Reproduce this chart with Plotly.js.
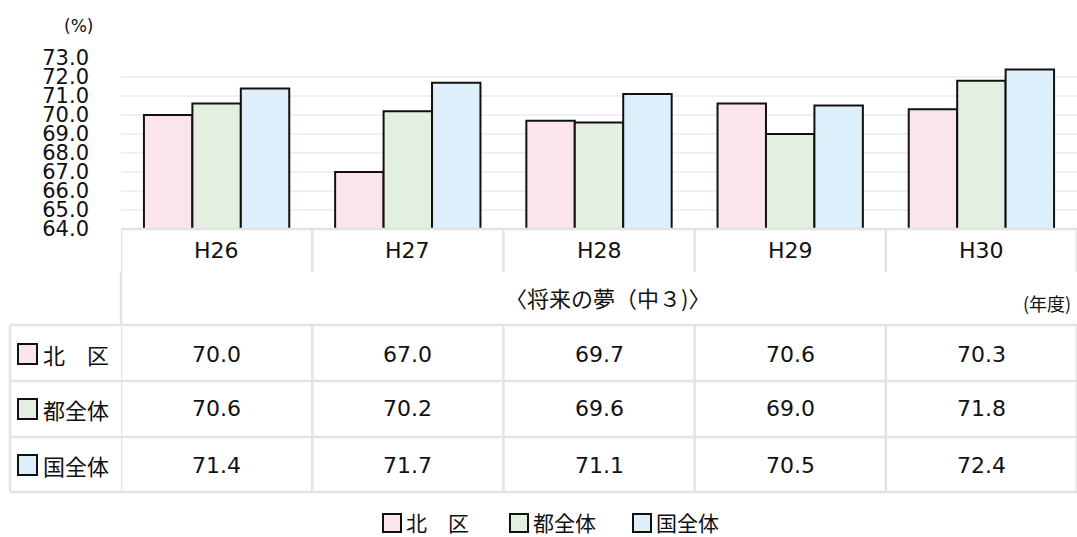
<!DOCTYPE html>
<html>
<head>
<meta charset="utf-8">
<script src="https://cdn.plot.ly/plotly-3.0.1.min.js"></script>
<style>html,body{margin:0;padding:0;background:#fff;}#chart{width:1077px;height:537px;}</style>
</head>
<body>
<div id="chart"></div>
<script>
// ---- data ----
const categories = ["H26", "H27", "H28", "H29", "H30"];
const seriesNames = ["北　区", "都全体", "国全体"];
const kitaValues = [70.0, 67.0, 69.7, 70.6, 70.3];
const tokyoValues = [70.6, 70.2, 69.6, 69.0, 71.8];
const nationValues = [71.4, 71.7, 71.1, 70.5, 72.4];
const yTickVals = [64, 65, 66, 67, 68, 69, 70, 71, 72, 73];
const subTitle = "〈将来の夢（中３)〉";
const yUnit = "(%)";
const xUnit = "(年度)";

const seriesValues = [kitaValues, tokyoValues, nationValues];
const colors = ["#fbe4ee", "#e2efe1", "#ddeffb"];

// ---- layout helpers (pixel -> paper) ----
const W = 1077, H = 537;
const L = 121, R = 0, T = 58, B = 537 - 229;
const plotW = W - L - R, plotH = H - T - B;
const px = p => (p - L) / plotW;
const py = p => (H - B - p) / plotH;

const FONT = '"DejaVu Sans", "Noto Sans CJK JP", sans-serif';
const CJK = '"Noto Sans CJK JP", "DejaVu Sans", sans-serif';
const TXT = "#111";
const gridCol = "#e3e3e3";

const traces = seriesValues.map((vals, k) => ({
  type: "bar",
  x: categories,
  y: vals,
  name: seriesNames[k],
  marker: { color: colors[k], line: { color: "#111", width: 2 } },
  showlegend: false,
  hoverinfo: "x+y"
}));

const shapes = [];
const annotations = [];

// table: category header row lines
shapes.push({ type: "line", xref: "paper", yref: "paper", x0: 0, x1: 1, y0: py(229), y1: py(229), line: { color: gridCol, width: 2.5 } });
for (let i = 0; i <= categories.length; i++) {
  const xv = i - 0.5;
  shapes.push({ type: "line", xref: "x", yref: "paper", x0: xv, x1: xv, y0: py(229), y1: py(272), line: { color: gridCol, width: 2.5 } });
  shapes.push({ type: "line", xref: "x", yref: "paper", x0: xv, x1: xv, y0: py(325), y1: py(492), line: { color: gridCol, width: 2.5 } });
}
// left border of sub title row
shapes.push({ type: "line", xref: "paper", yref: "paper", x0: 0, x1: 0, y0: py(272), y1: py(325), line: { color: gridCol, width: 2.5 } });
// data rows
const rowLines = [325, 381, 437, 492];
rowLines.forEach(r => {
  shapes.push({ type: "line", xref: "paper", yref: "paper", x0: px(10), x1: 1, y0: py(r), y1: py(r), line: { color: gridCol, width: 2.5 } });
});
shapes.push({ type: "line", xref: "paper", yref: "paper", x0: px(10), x1: px(10), y0: py(325), y1: py(492), line: { color: gridCol, width: 2.5 } });

// category labels
categories.forEach((c, i) => {
  annotations.push({ xref: "x", yref: "paper", x: c, y: py(250), text: c, showarrow: false,
    xanchor: "center", yanchor: "middle", font: { size: 22, color: TXT, family: FONT } });
});
// subtitle and units
annotations.push({ xref: "x", yref: "paper", x: 2, xshift: 8, y: py(297), text: subTitle, showarrow: false,
  xanchor: "center", yanchor: "middle", font: { size: 22, color: TXT, family: CJK } });
annotations.push({ xref: "paper", yref: "paper", x: px(1073), y: py(303), text: xUnit, showarrow: false,
  xanchor: "right", yanchor: "middle", font: { size: 18, color: TXT, family: CJK } });
annotations.push({ xref: "paper", yref: "paper", x: px(78), y: py(26), text: yUnit, showarrow: false,
  xanchor: "center", yanchor: "middle", font: { size: 17, color: TXT, family: FONT } });

// data table rows
const rowCenters = [354, 409, 465];
seriesValues.forEach((vals, k) => {
  const yc = py(rowCenters[k]);
  shapes.push({ type: "rect", xref: "paper", yref: "paper", x0: px(18), x1: px(37), y0: py(rowCenters[k] - 10), y1: py(rowCenters[k] + 10),
    fillcolor: colors[k], line: { color: "#111", width: 2 } });
  annotations.push({ xref: "paper", yref: "paper", x: px(41), y: yc, text: seriesNames[k], showarrow: false,
    xanchor: "left", yanchor: "middle", font: { size: 22, color: TXT, family: CJK } });
  vals.forEach((v, i) => {
    annotations.push({ xref: "x", yref: "paper", x: categories[i], y: yc, text: v.toFixed(1), showarrow: false,
      xanchor: "center", yanchor: "middle", font: { size: 22, color: TXT, family: FONT } });
  });
});

// custom legend
const legendX = [383, 510, 633];
seriesNames.forEach((n, k) => {
  const yc = 523;
  shapes.push({ type: "rect", xref: "paper", yref: "paper", x0: px(legendX[k]), x1: px(legendX[k] + 18), y0: py(yc - 9), y1: py(yc + 9),
    fillcolor: colors[k], line: { color: "#111", width: 2 } });
  annotations.push({ xref: "paper", yref: "paper", x: px(legendX[k] + 21), y: py(yc - 1), text: n, showarrow: false,
    xanchor: "left", yanchor: "middle", font: { size: 21, color: TXT, family: CJK } });
});

const layout = {
  width: W, height: H,
  margin: { l: L, r: R, t: T, b: B, pad: 0 },
  paper_bgcolor: "#fff", plot_bgcolor: "#fff",
  barmode: "group", bargap: 0.24, bargroupgap: 0,
  font: { family: FONT, color: TXT },
  xaxis: { type: "category", range: [-0.5, 4.5], showticklabels: false, ticks: "", showgrid: false, zeroline: false, showline: false, fixedrange: true },
  yaxis: { range: [64, 73], tickvals: yTickVals, ticktext: yTickVals.map(v => v.toFixed(1)), showgrid: true, gridcolor: "#f0f0f0", gridwidth: 2,
    zeroline: false, showline: false, ticks: "", ticklabelstandoff: 31, tickfont: { size: 21, color: TXT, family: FONT }, fixedrange: true },
  shapes: shapes,
  annotations: annotations
};

Plotly.newPlot("chart", traces, layout, { displayModeBar: false, staticPlot: true });
</script>
</body>
</html>
